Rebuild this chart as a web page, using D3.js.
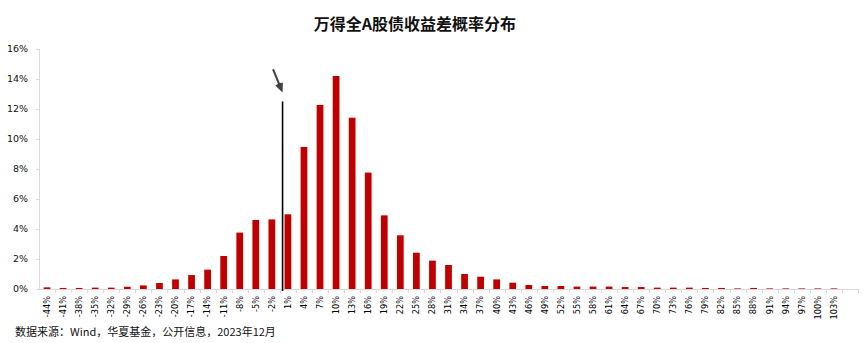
<!DOCTYPE html>
<html><head><meta charset="utf-8">
<script src="https://cdn.jsdelivr.net/npm/d3@7/dist/d3.min.js"></script>
<style>body{margin:0;background:#fff}svg{display:block}</style>
</head><body>
<svg id="c" width="865" height="343"></svg>
<script>
const title = "万得全A股债收益差概率分布";
const source = "数据来源：Wind，华夏基金，公开信息，2023年12月";
const categories = [-44,-41,-38,-35,-32,-29,-26,-23,-20,-17,-14,-11,-8,-5,-2,1,4,7,10,13,16,19,22,25,28,31,34,37,40,43,46,49,52,55,58,61,64,67,70,73,76,79,82,85,88,91,94,97,100,103,106];
const categoryLabels = categories.map((c,i)=> i===categories.length-1 ? "" : c + "%");
const values = [0.11,0.07,0.07,0.09,0.09,0.15,0.24,0.40,0.64,0.93,1.29,2.20,3.76,4.60,4.64,4.98,9.47,12.27,14.20,11.42,7.76,4.91,3.58,2.42,1.89,1.60,1.00,0.82,0.64,0.42,0.27,0.20,0.20,0.16,0.16,0.16,0.13,0.13,0.09,0.09,0.09,0.07,0.07,0.04,0.07,0.04,0.04,0.04,0.04,0.04,0];
const yTicks = [0,2,4,6,8,10,12,14,16];
const markerValue = 0;      // current position on the x (return %) axis
const markerTop = 12.5;     // height of marker line (%)

(function(){
const svg = d3.select("#c");
const mL = 39, mR = 858, mT = 49, mB = 289;

const x = d3.scaleBand().domain(categories).range([mL, mR]).paddingInner(0.58).paddingOuter(0.29);
const y = d3.scaleLinear().domain([0,16]).range([mB, mT]);
const step = x.step();

svg.append("text").attr("x", 415).attr("y", 30).attr("text-anchor","middle")
  .attr("font-family","'Noto Sans CJK SC', sans-serif").attr("font-weight","bold")
  .attr("font-size","16px").attr("fill","#111").text(title);

const yAxis = svg.append("g");
yAxis.append("line").attr("x1",mL+0.5).attr("x2",mL+0.5).attr("y1",y(16)).attr("y2",y(0)).attr("stroke","#d9d9d9");
yAxis.selectAll("line.t").data(yTicks).join("line").attr("class","t")
  .attr("x1",mL-3).attr("x2",mL).attr("y1",d=>Math.round(y(d))+0.5).attr("y2",d=>Math.round(y(d))+0.5).attr("stroke","#d9d9d9");
yAxis.selectAll("text").data(yTicks).join("text")
  .attr("x", 28).attr("y", d=>y(d)).attr("dy","0.35em").attr("text-anchor","end")
  .attr("font-family","'DejaVu Sans', sans-serif").attr("font-size","9.5px").attr("fill","#111")
  .text(d=>d+"%");

svg.selectAll("rect.bar").data(values).join("rect").attr("class","bar")
  .attr("x",(d,i)=>x(categories[i])).attr("width",x.bandwidth())
  .attr("y",d=>y(d)).attr("height",d=>y(0)-y(d)).attr("fill","#C00000");

const xAxis = svg.append("g");
xAxis.append("line").attr("x1",mL).attr("x2",mR).attr("y1",y(0)+0.5).attr("y2",y(0)+0.5).attr("stroke","#d9d9d9");
xAxis.selectAll("line.t").data(categories).join("line").attr("class","t")
  .attr("x1",(d,i)=>Math.round(mL+step*(i+1))+0.5).attr("x2",(d,i)=>Math.round(mL+step*(i+1))+0.5)
  .attr("y1",y(0)).attr("y2",y(0)+4).attr("stroke","#d9d9d9");
xAxis.selectAll("text").data(categories).join("text")
  .attr("transform",(d)=>`translate(${x(d)+x.bandwidth()/2},${y(0)+7}) rotate(-90)`)
  .attr("dy","0.35em").attr("text-anchor","end")
  .attr("font-family","'DejaVu Sans', sans-serif").attr("font-size","8.2px").attr("fill","#000")
  .text((d,i)=>categoryLabels[i]);

const iPrev = categories.findIndex(c=>c>markerValue)-1;
const mx = x(categories[iPrev]) + x.bandwidth()/2 + (markerValue - categories[iPrev])/3*step;
svg.append("line").attr("x1",mx).attr("x2",mx).attr("y1",y(markerTop)).attr("y2",y(0)+2)
  .attr("stroke","#000").attr("stroke-width",1.6);

const tipX = mx, tipY = y(13.1);
const tailX = mx-9.5, tailY = y(14.65);
const ang = Math.atan2(tipY-tailY, tipX-tailX);
const hl = 9, hw = 4;
const bx = tipX - hl*Math.cos(ang), by = tipY - hl*Math.sin(ang);
const px = -Math.sin(ang), py = Math.cos(ang);
svg.append("line").attr("x1",tailX).attr("y1",tailY).attr("x2",bx).attr("y2",by)
  .attr("stroke","#404040").attr("stroke-width",2);
svg.append("path").attr("d",`M${tipX},${tipY}L${bx+px*hw},${by+py*hw}L${bx+(tailX-bx)*0.08},${by+(tailY-by)*0.08}L${bx-px*hw},${by-py*hw}Z`)
  .attr("fill","#404040");

svg.append("text").attr("x",15).attr("y",336)
  .attr("font-family","'Noto Sans CJK SC', sans-serif").attr("font-size","11px").attr("fill","#111")
  .text(source);
})();
</script>
</body></html>
